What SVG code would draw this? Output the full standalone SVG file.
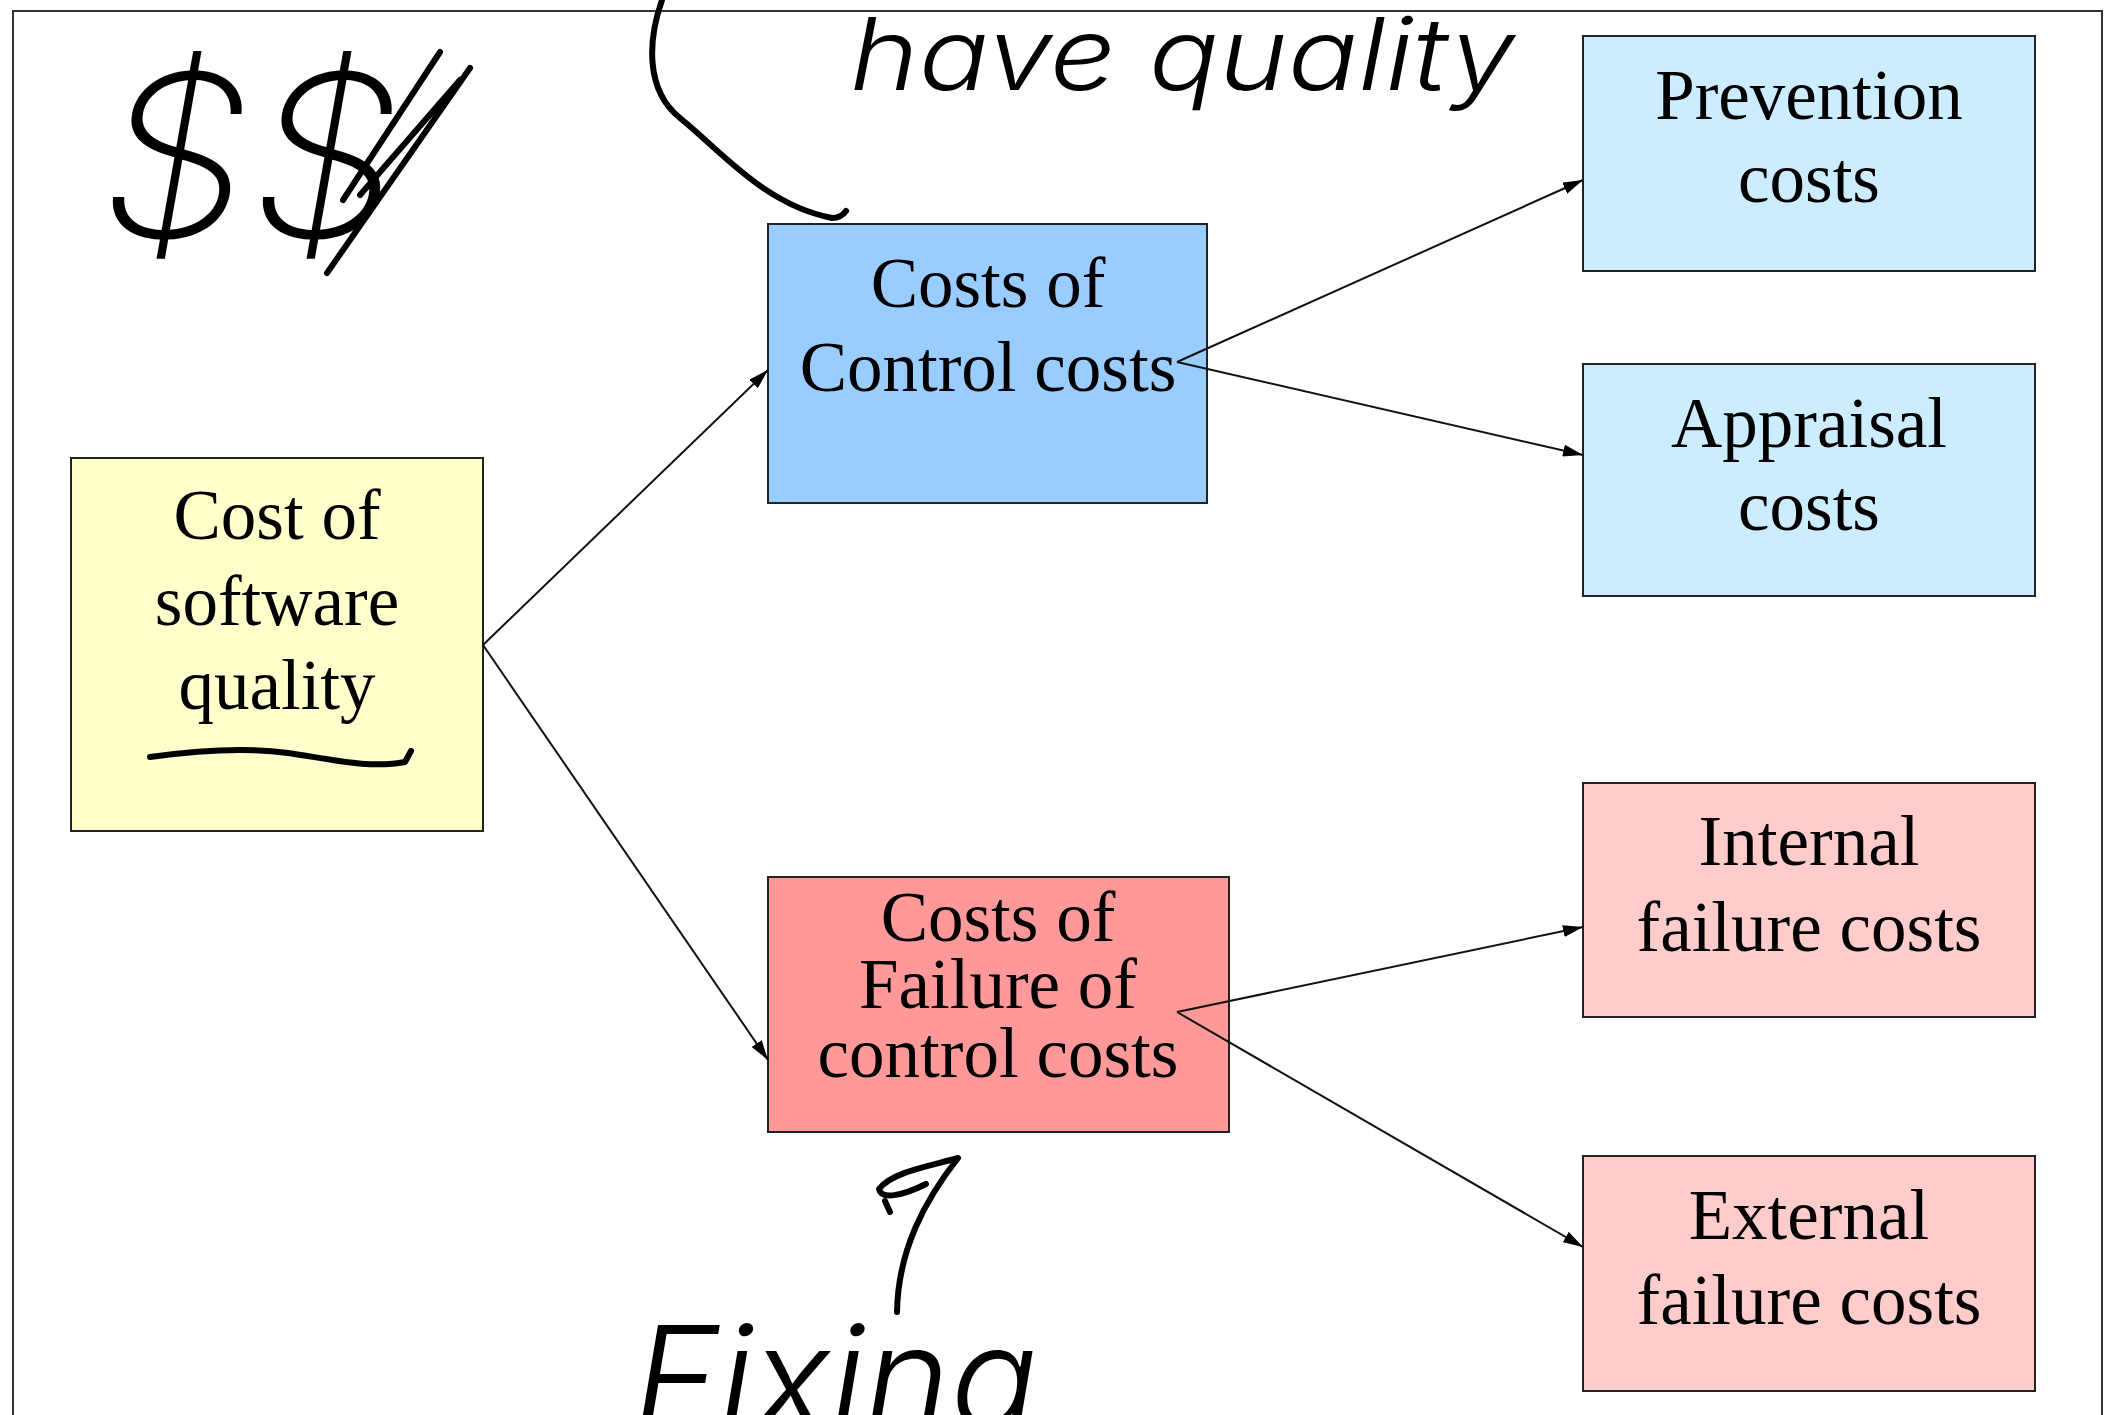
<svg xmlns="http://www.w3.org/2000/svg" width="2113" height="1415" viewBox="0 0 2113 1415">
<style>
.box{stroke:#222;stroke-width:2}
.lbl{font-family:"Liberation Serif","Times New Roman",serif;font-size:71px;fill:#000;text-anchor:middle}
.conn{stroke:#111;stroke-width:2;fill:none;marker-end:url(#ah)}
.ink{stroke:#000;stroke-width:6;fill:none;stroke-linecap:round;stroke-linejoin:round}
.hand{font-family:Inter,"Liberation Sans",sans-serif;font-style:italic;fill:#000}
</style>
<defs>
<marker id="ah" viewBox="0 0 20 12" refX="20" refY="6" markerWidth="20" markerHeight="12" markerUnits="userSpaceOnUse" orient="auto">
<path d="M0,0 L20,6 L0,12 Z" fill="#000"/>
</marker>
</defs>
<rect width="2113" height="1415" fill="#fff"/>
<rect x="13" y="11" width="2089" height="1430" fill="none" stroke="#333" stroke-width="2"/>

<g id="node-quality">
<rect class="box" x="71" y="458" width="412" height="373" fill="#FFFFCC"/>
<text class="lbl" x="277" y="539">Cost of</text>
<text class="lbl" x="277" y="625">software</text>
<text class="lbl" x="277" y="709">quality</text>
</g>
<g id="node-control">
<rect class="box" x="768" y="224" width="439" height="279" fill="#99CCFF"/>
<text class="lbl" x="988" y="307">Costs of</text>
<text class="lbl" x="988" y="391">Control costs</text>
</g>
<g id="node-failure">
<rect class="box" x="768" y="877" width="461" height="255" fill="#FF9999"/>
<text class="lbl" x="998" y="941">Costs of<tspan x="998" dy="67">Failure of</tspan><tspan x="998" dy="69">control costs</tspan></text>
</g>
<g id="node-prevention">
<rect class="box" x="1583" y="36" width="452" height="235" fill="#CCECFF"/>
<text class="lbl" x="1809" y="119">Prevention</text>
<text class="lbl" x="1809" y="202">costs</text>
</g>
<g id="node-appraisal">
<rect class="box" x="1583" y="364" width="452" height="232" fill="#CCECFF"/>
<text class="lbl" x="1809" y="447">Appraisal</text>
<text class="lbl" x="1809" y="530">costs</text>
</g>
<g id="node-internal">
<rect class="box" x="1583" y="783" width="452" height="234" fill="#FFCCCC"/>
<text class="lbl" x="1809" y="865">Internal</text>
<text class="lbl" x="1809" y="951">failure costs</text>
</g>
<g id="node-external">
<rect class="box" x="1583" y="1156" width="452" height="235" fill="#FFCCCC"/>
<text class="lbl" x="1809" y="1239">External</text>
<text class="lbl" x="1809" y="1324">failure costs</text>
</g>

<g id="connectors">
<line class="conn" x1="483" y1="645" x2="768" y2="370"/>
<line class="conn" x1="483" y1="645" x2="768" y2="1060"/>
<line class="conn" x1="1177" y1="362" x2="1583" y2="180"/>
<line class="conn" x1="1177" y1="362" x2="1583" y2="455"/>
<line class="conn" x1="1177" y1="1012" x2="1583" y2="927"/>
<line class="conn" x1="1177" y1="1012" x2="1583" y2="1247"/>
</g>

<g id="annotations">
<path class="ink" d="M662,0 C648,40 645,90 680,118 C722,152 765,205 832,218 Q841,218 846,211"/>
<path class="ink" d="M150,757 C200,750 245,747 288,753 C330,759 370,769 405,762 L411,751" stroke-width="7"/>
<path class="ink" d="M897,1312 C898,1250 925,1200 958,1158 C930,1166 892,1172 879,1189 C881,1200 902,1196 926,1184 M885,1201 L890,1212"/>
<path class="ink" d="M470,68 L327,273 M440,52 L343,200 M460,80 L360,195" stroke-width="5"/>
<text class="hand" x="850" y="90" font-size="100" font-weight="300" textLength="665" lengthAdjust="spacingAndGlyphs">have quality</text>
<text class="hand" x="633" y="1430" font-size="144" font-weight="300" textLength="405" lengthAdjust="spacingAndGlyphs">Fixing</text>
<text class="hand" x="100" y="237" font-size="226" font-weight="200" textLength="300" lengthAdjust="spacingAndGlyphs">$$</text>
</g>
</svg>
